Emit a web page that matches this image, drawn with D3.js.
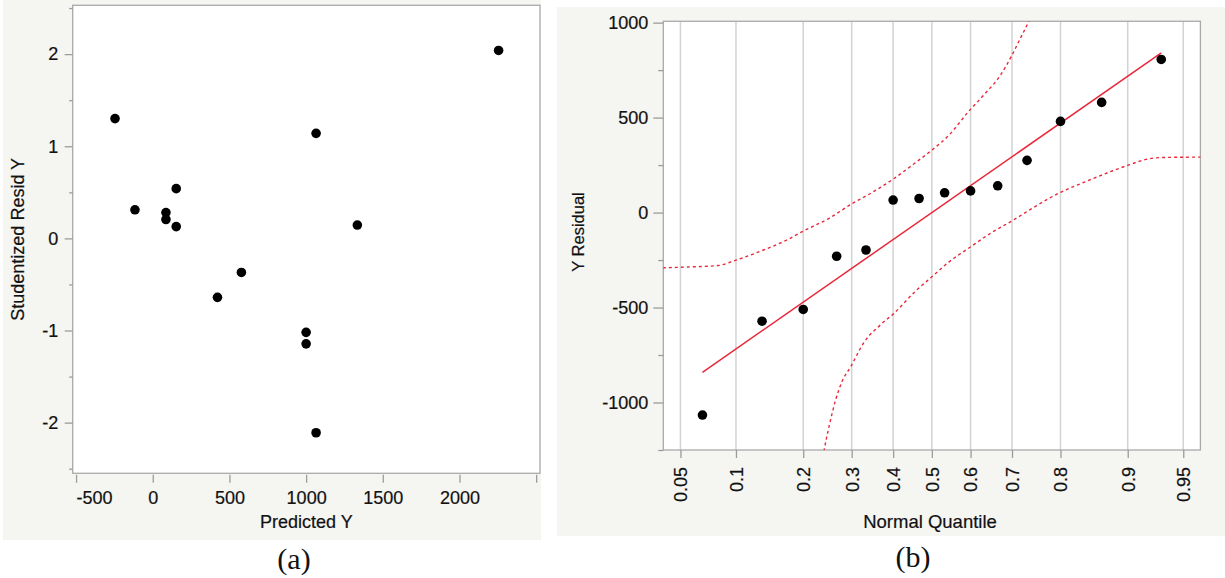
<!DOCTYPE html>
<html>
<head>
<meta charset="utf-8">
<script src="https://cdn.jsdelivr.net/npm/d3@7"></script>
<style>
  body { margin: 0; background: #fff; }
  svg { display: block; }
  text { fill: #111; }
  .sans { font-family: "Liberation Sans", Arial, Helvetica, sans-serif; stroke: #111; stroke-width: 0.2px; }
  .serif { font-family: "Liberation Serif", "Times New Roman", serif; }
</style>
</head>
<body>
<svg id="chart" width="1225" height="578"></svg>
<script>
// ---- (a) Studentized residuals against predicted values ----
const predictedY   = [-246, -116, 86, 86, 153, 153, 422, 578, 1000, 1000, 1065, 1065, 1334, 2255];
const studentResid = [1.30, 0.31, 0.28, 0.205, 0.54, 0.128, -0.64, -0.37, -1.02, -1.145, 1.14, -2.11, 0.145, 2.04];
const predTicks      = [-500, 0, 500, 1000, 1500, 2000, 2500];
const predTickLabels = ["-500", "0", "500", "1000", "1500", "2000", ""];
const studTicks      = [-2, -1, 0, 1, 2];
const studMinorTicks = [-2.5, -1.5, -0.5, 0.5, 1.5, 2.5];

// ---- (b) Normal quantile plot of the Y residuals ----
const quantileProbs = [0.0667, 0.1333, 0.2, 0.2667, 0.3333, 0.4, 0.4667, 0.5333, 0.6, 0.6667, 0.7333, 0.8, 0.8667, 0.9333];
const yResidual     = [-1066, -572, -510, -230, -197, 66, 74, 104, 114, 141, 275, 480, 580, 806];
const fitProbs  = [0.0667, 0.9333];
const fitValues = [-841, 841];
// confidence limits, sampled along the normal-quantile axis
const upperBandZ = [-1.76, -1.62, -1.40, -1.29, -1.12, -0.95, -0.84, -0.67, -0.53, -0.39, -0.25, -0.11, 0.00, 0.11, 0.24, 0.34, 0.45, 0.52, 0.58, 0.63, 0.66];
const upperBandY = [-291, -287, -279, -253, -203, -145, -97, -29, 43, 106, 178, 261, 329, 406, 532, 619, 725, 822, 919, 1000, 1060];
const lowerBandZ = [-0.72, -0.706, -0.672, -0.63, -0.588, -0.531, -0.447, -0.335, -0.25, -0.11, 0.00, 0.11, 0.24, 0.39, 0.53, 0.67, 0.84, 1.01, 1.18, 1.29, 1.40, 1.51, 1.76];
const lowerBandY = [-1320, -1256, -1124, -988, -890, -812, -687, -590, -532, -416, -338, -261, -188, -106, -41, 29, 106, 164, 219, 251, 280, 290, 292];
const probTicks  = [0.05, 0.1, 0.2, 0.3, 0.4, 0.5, 0.6, 0.7, 0.8, 0.9, 0.95];
const residTicks      = [-1000, -500, 0, 500, 1000];
const residMinorTicks = [-1250, -750, -250, 250, 750];

// inverse of the standard normal CDF (Acklam's rational approximation)
function probit(p) {
  const a = [-3.969683028665376e+01, 2.209460984245205e+02, -2.759285104469687e+02, 1.383577518672690e+02, -3.066479806614716e+01, 2.506628277459239e+00];
  const b = [-5.447609879822406e+01, 1.615858368580409e+02, -1.556989798598866e+02, 6.680131188771972e+01, -1.328068155288572e+01];
  const c = [-7.784894002430293e-03, -3.223964580411365e-01, -2.400758277161838e+00, -2.549732539343734e+00, 4.374664141464968e+00, 2.938163982698783e+00];
  const d = [7.784695709041462e-03, 3.224671290700398e-01, 2.445134137142996e+00, 3.754408661907416e+00];
  const pl = 0.02425, ph = 1 - pl;
  let q, r;
  if (p < pl) {
    q = Math.sqrt(-2 * Math.log(p));
    return (((((c[0]*q+c[1])*q+c[2])*q+c[3])*q+c[4])*q+c[5]) / ((((d[0]*q+d[1])*q+d[2])*q+d[3])*q+1);
  }
  if (p <= ph) {
    q = p - 0.5; r = q * q;
    return (((((a[0]*r+a[1])*r+a[2])*r+a[3])*r+a[4])*r+a[5])*q / (((((b[0]*r+b[1])*r+b[2])*r+b[3])*r+b[4])*r+1);
  }
  q = Math.sqrt(-2 * Math.log(1 - p));
  return -(((((c[0]*q+c[1])*q+c[2])*q+c[3])*q+c[4])*q+c[5]) / ((((d[0]*q+d[1])*q+d[2])*q+d[3])*q+1);
}

const svg = d3.select("#chart");
const PANEL_BG = "#f5f5f2";
const FRAME = "#a9a9a9";
const TICK = "#9c9c9c";
const RED = "#e8283a";
const plain = d => String(d);   // keep an ASCII hyphen for negative numbers

function styleAxis(g) {
  g.select(".domain").remove();
  g.selectAll(".tick line").attr("stroke", TICK).attr("stroke-width", 1.3);
  g.attr("font-family", null).attr("font-size", null);
  g.selectAll("text").attr("class", "sans").attr("font-size", 18).attr("fill", "#111");
}

// ============ Panel (a) ============
{
  const L = 72.7, R = 540, T = 5.3, B = 473.3;
  svg.append("rect").attr("x", 3).attr("y", 0).attr("width", 538).attr("height", 540).attr("fill", PANEL_BG);
  svg.append("rect").attr("x", L).attr("y", T).attr("width", R - L).attr("height", B - T)
    .attr("fill", "#fff").attr("stroke", FRAME).attr("stroke-width", 1.3);

  const x = d3.scaleLinear().domain([-522, 2525]).range([L, R]);
  const y = d3.scaleLinear().domain([-2.55, 2.53]).range([B, T]);

  // y axis
  svg.append("g").attr("transform", `translate(${L},0)`)
    .call(d3.axisLeft(y).tickValues(studMinorTicks).tickSize(3.5).tickFormat(""))
    .call(styleAxis);
  svg.append("g").attr("transform", `translate(${L},0)`)
    .call(d3.axisLeft(y).tickValues(studTicks).tickSize(8).tickPadding(6.5).tickFormat(plain))
    .call(styleAxis);

  // x axis; the first label is kept inside the axis extent
  svg.append("g").attr("transform", `translate(0,${B + 1.5})`)
    .call(d3.axisBottom(x).tickValues(predTicks).tickSize(8).tickPadding(8)
      .tickFormat((d, i) => predTickLabels[i]))
    .call(styleAxis)
    .call(g => g.selectAll("text").filter((d, i) => i === 0).attr("text-anchor", "start"));

  svg.append("text").attr("class", "sans").attr("x", (L + R) / 2).attr("y", 527.5)
    .attr("text-anchor", "middle").attr("font-size", 18).text("Predicted Y");
  svg.append("text").attr("class", "sans").attr("transform", `translate(24,${(T + B) / 2}) rotate(-90)`)
    .attr("text-anchor", "middle").attr("font-size", 18).text("Studentized Resid Y");

  svg.append("g").selectAll("circle").data(predictedY).join("circle")
    .attr("cx", d => x(d)).attr("cy", (d, i) => y(studentResid[i])).attr("r", 4.8).attr("fill", "#000");

  svg.append("text").attr("class", "serif").attr("x", 294).attr("y", 569)
    .attr("text-anchor", "middle").attr("font-size", 30).text("(a)");
}

// ============ Panel (b) ============
{
  const L = 663.3, R = 1200.4, T = 21.3, B = 450;
  svg.append("rect").attr("x", 557).attr("y", 7).attr("width", 668).attr("height", 529).attr("fill", PANEL_BG);
  svg.append("rect").attr("x", L).attr("y", T).attr("width", R - L).attr("height", B - T).attr("fill", "#fff");

  const x = d3.scaleLinear().domain([-1.757, 1.757]).range([L, R]);
  const y = d3.scaleLinear().domain([-1250, 1007]).range([B, T]);
  const xp = p => x(probit(p));

  // vertical grid at probability ticks
  svg.append("g").selectAll("line").data(probTicks).join("line")
    .attr("x1", d => xp(d)).attr("x2", d => xp(d)).attr("y1", T).attr("y2", B)
    .attr("stroke", "#d3d3d3").attr("stroke-width", 1.5);

  svg.append("rect").attr("x", L).attr("y", T).attr("width", R - L).attr("height", B - T)
    .attr("fill", "none").attr("stroke", FRAME).attr("stroke-width", 1.3);

  // y axis
  svg.append("g").attr("transform", `translate(${L},0)`)
    .call(d3.axisLeft(y).tickValues(residMinorTicks).tickSize(5).tickFormat(""))
    .call(styleAxis);
  svg.append("g").attr("transform", `translate(${L},0)`)
    .call(d3.axisLeft(y).tickValues(residTicks).tickSize(10).tickPadding(5).tickFormat(plain))
    .call(styleAxis);

  // x axis: probabilities placed on a normal-quantile scale
  svg.append("g").attr("transform", `translate(0,${B})`)
    .call(d3.axisBottom(x).tickValues(probTicks.map(probit)).tickSize(8)
      .tickFormat((d, i) => String(probTicks[i])))
    .call(styleAxis)
    .call(g => g.selectAll("text")
      .attr("transform", "rotate(-90)")
      .attr("text-anchor", "end").attr("dy", "0.35em")
      .attr("x", -17).attr("y", 0));

  svg.append("text").attr("class", "sans").attr("x", 930).attr("y", 528)
    .attr("text-anchor", "middle").attr("font-size", 18.5).text("Normal Quantile");
  svg.append("text").attr("class", "sans").attr("transform", `translate(584,232) rotate(-90)`)
    .attr("text-anchor", "middle").attr("font-size", 16.5).text("Y Residual");

  const clip = svg.append("clipPath").attr("id", "clipB");
  clip.append("rect").attr("x", L).attr("y", T).attr("width", R - L).attr("height", B - T);
  const plot = svg.append("g").attr("clip-path", "url(#clipB)");

  const band = d3.line().x(d => x(d[0])).y(d => y(d[1])).curve(d3.curveMonotoneX);
  plot.append("path").attr("d", band(upperBandZ.map((z, i) => [z, upperBandY[i]])))
    .attr("fill", "none").attr("stroke", RED).attr("stroke-width", 1.4).attr("stroke-dasharray", "3,3");
  plot.append("path").attr("d", band(lowerBandZ.map((z, i) => [z, lowerBandY[i]])))
    .attr("fill", "none").attr("stroke", RED).attr("stroke-width", 1.4).attr("stroke-dasharray", "3,3");

  const fit = d3.line().x(d => xp(d[0])).y(d => y(d[1]));
  plot.append("path").attr("d", fit(fitProbs.map((p, i) => [p, fitValues[i]])))
    .attr("fill", "none").attr("stroke", RED).attr("stroke-width", 1.5);

  plot.append("g").selectAll("circle").data(quantileProbs).join("circle")
    .attr("cx", d => xp(d)).attr("cy", (d, i) => y(yResidual[i])).attr("r", 4.8).attr("fill", "#000");

  svg.append("text").attr("class", "serif").attr("x", 913).attr("y", 567)
    .attr("text-anchor", "middle").attr("font-size", 30).text("(b)");
}
</script>
</body>
</html>
